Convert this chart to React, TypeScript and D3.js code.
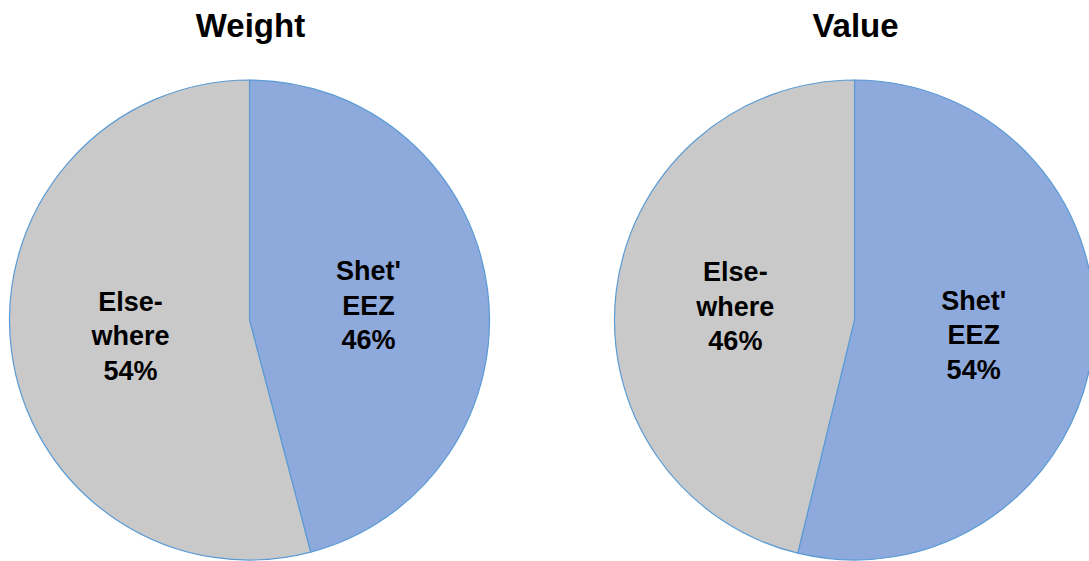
import React from "react";
import * as d3 from "d3";

const titles = ["Weight", "Value"];
const categories = ["Shet' EEZ", "Elsewhere"];
const labelLines = [["Shet'", "EEZ"], ["Else-", "where"]];
const weightValues = [45.9, 54.1];
const valueValues = [53.8, 46.2];
const seriesList = [weightValues, valueValues];
const colors = ["#8EA9DB", "#C9C9C9"];

const W = 1089;
const H = 561;
const R = 240;
const centersX = [249.5, 854.5];
const cy = 320;

export default function App() {
  const pie = d3.pie<number>().value((d) => d).sort(null);
  const arc = d3.arc<d3.PieArcDatum<number>>().innerRadius(0).outerRadius(R);
  const font = "'Liberation Sans', Arial, Helvetica, sans-serif";
  return (
    <svg
      width={W}
      height={H}
      style={{ position: "absolute", left: 0, top: 0, background: "#fff", overflow: "hidden" }}
    >
      {seriesList.map((vals, pi) => {
        const arcs = pie(vals);
        const cx = centersX[pi];
        return (
          <g key={pi}>
            <text
              x={cx + 1}
              y={37}
              textAnchor="middle"
              fontFamily={font}
              fontWeight="bold"
              fontSize={33}
              fill="#000"
            >
              {titles[pi]}
            </text>
            <g transform={`translate(${cx},${cy})`}>
              {arcs.map((a, i) => (
                <path
                  key={categories[i]}
                  d={arc(a) || ""}
                  fill={colors[i]}
                  stroke="#5B9BD5"
                  strokeWidth={1.2}
                />
              ))}
              {arcs.map((a, i) => {
                const [lx, ly] = arc.centroid(a);
                const lines = [...labelLines[i], `${Math.round(vals[i])}%`];
                return (
                  <text
                    key={"l" + i}
                    textAnchor="middle"
                    fontFamily={font}
                    fontWeight="bold"
                    fontSize={27}
                    fill="#000"
                  >
                    {lines.map((t, k) => (
                      <tspan key={k} x={lx} y={ly + 10 + (k - 1) * 34.5}>
                        {t}
                      </tspan>
                    ))}
                  </text>
                );
              })}
            </g>
          </g>
        );
      })}
    </svg>
  );
}
